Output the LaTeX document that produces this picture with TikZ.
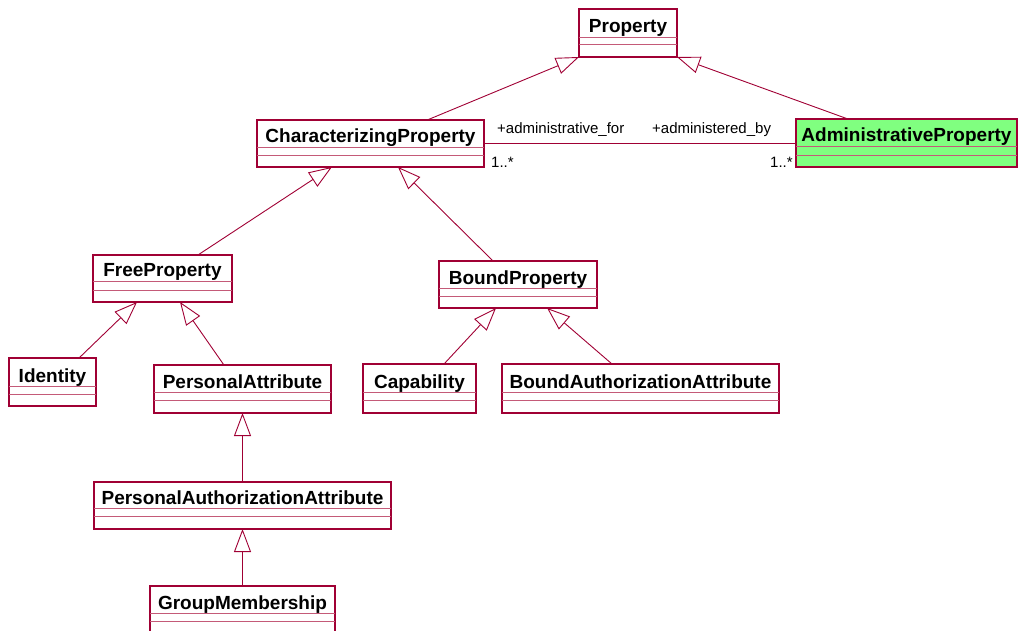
\documentclass[tikz,border=0pt]{standalone}
\usepackage{fontspec}
\setmainfont{Liberation Sans}
\usetikzlibrary{arrows.meta,calc}
\definecolor{umlline}{RGB}{160,0,52}
\definecolor{umlsep}{RGB}{196,90,120}
\definecolor{adminfill}{RGB}{128,255,128}

% class box: name, left, top, right, sep1, sep2, bottom, title, fill
\newcommand\umlclass[9]{%
  \node[classbox, fill=#9, anchor=north west,
        minimum width={(#4-#2)*1pt}, minimum height={(#7-#3)*1pt}] (#1) at (#2,#3) {};
  \draw[sepline] (#2,#5) -- (#4,#5);
  \draw[sepline] (#2,#6) -- (#4,#6);
  \node[classname, anchor=base] (#1-title) at ({(#2+#4)/2},{#5-4}) {#8};
}

\begin{document}
\begin{tikzpicture}[x=1pt, y=-1pt,
  classbox/.style={draw=umlline, line width=1.1pt, inner sep=0pt, outer sep=0pt},
  sepline/.style={draw=umlsep, line width=0.9pt},
  classname/.style={font=\fontsize{19}{22}\selectfont\bfseries, inner sep=0pt, text=black},
  rolelabel/.style={font=\fontsize{15}{17}\selectfont, inner sep=0pt, anchor=base west, text=black},
  gen/.style={draw=umlline, line width=0.9pt, -{Triangle[open, length=23pt, width=17pt]}},
  assoc/.style={draw=umlline, line width=0.9pt}]

\useasboundingbox (0,0) rectangle (1018,631);

% classes
\umlclass{prop}{579}{9}{677}{37}{44}{57}{Property}{white}
\umlclass{cp}{257}{120}{484}{147}{155}{167}{CharacterizingProperty}{white}
\umlclass{ap}{796}{119}{1017}{146}{155}{167}{AdministrativeProperty}{adminfill}
\umlclass{fp}{93}{255}{232}{281}{290}{302}{FreeProperty}{white}
\umlclass{bp}{439}{261}{597}{288}{296}{308}{BoundProperty}{white}
\umlclass{id}{9}{358}{96}{386}{394}{406}{Identity}{white}
\umlclass{pa}{154}{365}{331}{392}{400}{413}{PersonalAttribute}{white}
\umlclass{cap}{363}{364}{476}{392}{400}{413}{Capability}{white}
\umlclass{baa}{502}{364}{779}{392}{400}{413}{BoundAuthorizationAttribute}{white}
\umlclass{paa}{94}{482}{391}{508}{516}{529}{PersonalAuthorizationAttribute}{white}
\umlclass{gm}{150}{586}{335}{613}{621}{636}{GroupMembership}{white}

% generalizations
\draw[gen] ($(cp.north west)!0.75!(cp.north east)$) -- (prop.south west);
\draw[gen] ($(ap.north west)!0.235!(ap.north east)$) -- (prop.south east);
\draw[gen] ($(fp.north west)!0.755!(fp.north east)$) -- ($(cp.south west)!0.33!(cp.south east)$);
\draw[gen] ($(bp.north west)!0.342!(bp.north east)$) -- ($(cp.south west)!0.621!(cp.south east)$);
\draw[gen] ($(id.north west)!0.805!(id.north east)$) -- ($(fp.south west)!0.317!(fp.south east)$);
\draw[gen] ($(pa.north west)!0.395!(pa.north east)$) -- ($(fp.south west)!0.626!(fp.south east)$);
\draw[gen] (paa.north) -- (pa.south);
\draw[gen] (gm.north) -- (paa.south);
\draw[gen] ($(cap.north west)!0.717!(cap.north east)$) -- ($(bp.south west)!0.361!(bp.south east)$);
\draw[gen] ($(baa.north west)!0.397!(baa.north east)$) -- ($(bp.south west)!0.684!(bp.south east)$);

% association
\draw[assoc] (ap.west) -- (ap.west -| cp.east);
\node[rolelabel] (roleFor) at (497,134) {+administrative\_for};
\node[rolelabel] (roleBy) at (652,134) {+administered\_by};
\node[rolelabel] (multL) at (491,168) {1..*};
\node[rolelabel] (multR) at (770,168) {1..*};

\end{tikzpicture}
\end{document}
